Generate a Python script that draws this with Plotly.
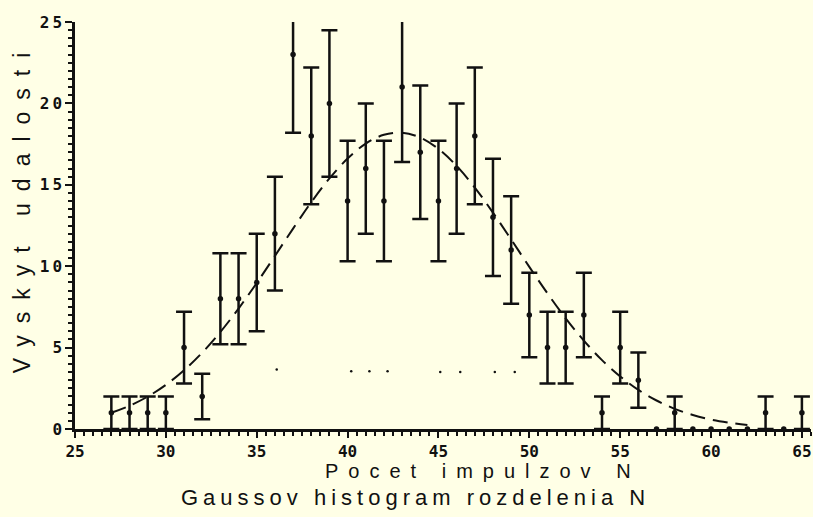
import plotly.graph_objects as go

# ---- data ----
n_values = list(range(27, 66))
counts = [1, 1, 1, 1, 5, 2, 8, 8, 9, 12, 23, 18, 20, 14, 16, 14, 21, 17, 14, 16,
          18, 13, 11, 7, 5, 5, 7, 1, 5, 3, 0, 1, 0, 0, 0, 0, 1, 0, 1]
errors = [1.0, 1.0, 1.0, 1.0, 2.2, 1.4, 2.8, 2.8, 3.0, 3.5, 4.8, 4.2, 4.5, 3.7, 4.0, 3.7, 4.6, 4.1, 3.7, 4.0,
          4.2, 3.6, 3.3, 2.6, 2.2, 2.2, 2.6, 1.0, 2.2, 1.7, 0.0, 1.0, 0.0, 0.0, 0.0, 0.0, 1.0, 0.0, 1.0]

curve_n = list(range(27, 63))
curve_v = [1.00, 1.43, 1.99, 2.71, 3.61, 4.69, 5.96, 7.40, 8.97, 10.63, 12.31, 13.93,
           15.39, 16.61, 17.53, 18.07, 18.19, 17.90, 17.20, 16.16, 14.83, 13.29, 11.64,
           9.96, 8.33, 6.80, 5.43, 4.23, 3.23, 2.40, 1.75, 1.24, 0.86, 0.58, 0.39, 0.25]

stray_n = [36.1, 40.2, 41.2, 42.2, 45.1, 46.2, 48.1, 49.2]
stray_v = [3.65, 3.55, 3.55, 3.55, 3.5, 3.5, 3.5, 3.5]

x_ticks = [25, 30, 35, 40, 45, 50, 55, 60, 65]
y_ticks = [0, 5, 10, 15, 20, 25]

title_text = "Gaussov histogram rozdelenia N"
x_title = "Pocet impulzov N"
y_title = "Vyskyt udalosti"

BG = "#FFFFE6"
INK = "#111111"


def spaced(text, px):
    return '<span style="letter-spacing:%dpx">%s</span>' % (px, text)


def tick_label(v):
    s = str(v)
    if len(s) == 1:
        return s
    return spaced(s[:-1], 3) + s[-1]


err_n = [n for n, e in zip(n_values, errors) if e > 0]
err_c = [c for c, e in zip(counts, errors) if e > 0]
err_e = [e for e in errors if e > 0]

fig = go.Figure()

fig.add_trace(go.Scatter(
    x=curve_n, y=curve_v, mode="lines",
    line=dict(color=INK, width=2, dash="15px,8px", shape="spline"),
    hoverinfo="skip", showlegend=False))

fig.add_trace(go.Scatter(
    x=err_n, y=err_c, mode="markers",
    marker=dict(size=1, color="rgba(0,0,0,0)"),
    error_y=dict(type="data", array=err_e, visible=True, color=INK, thickness=2.5, width=8),
    showlegend=False))

fig.add_trace(go.Scatter(
    x=n_values, y=counts, mode="markers",
    marker=dict(size=5.5, color=INK),
    cliponaxis=False, showlegend=False))

fig.add_trace(go.Scatter(
    x=stray_n, y=stray_v, mode="markers",
    marker=dict(size=2.5, color=INK),
    hoverinfo="skip", showlegend=False))

tick_font = dict(family="DejaVu Sans Mono", size=16, color=INK, weight="bold")

fig.update_layout(
    width=813, height=517,
    margin=dict(l=75, r=2, t=22, b=88),
    paper_bgcolor=BG, plot_bgcolor=BG,
    showlegend=False,
    xaxis=dict(
        range=[25, 65.5], tickvals=x_ticks, ticktext=[str(v) for v in x_ticks],
        ticks="outside", ticklen=6, tickwidth=2, tickcolor=INK,
        showline=True, linewidth=2.5, linecolor=INK, ticklabeloverflow="allow",
        showgrid=False, zeroline=False, tickfont=tick_font,
        minor=dict(dtick=0.5, tick0=25, ticks="outside", ticklen=4, tickwidth=1.5, tickcolor=INK, showgrid=False),
    ),
    yaxis=dict(
        range=[0, 25], tickvals=y_ticks, ticktext=[tick_label(v) for v in y_ticks],
        ticks="outside", ticklen=7, tickwidth=2, tickcolor=INK,
        showline=True, linewidth=2.5, linecolor=INK, ticklabeloverflow="allow",
        showgrid=False, zeroline=False, tickfont=tick_font,
        minor=dict(dtick=0.5, tick0=0, ticks="outside", ticklen=4, tickwidth=1.5, tickcolor=INK, showgrid=False),
    ),
    annotations=[
        dict(text=spaced(x_title, 10),
             xref="paper", yref="paper", x=0.555, y=-0.103, xanchor="center", yanchor="middle",
             showarrow=False, font=dict(family="Liberation Sans", size=20, color=INK)),
        dict(text=spaced(title_text, 5),
             xref="paper", yref="paper", x=0.462, y=-0.168, xanchor="center", yanchor="middle",
             showarrow=False, font=dict(family="Liberation Sans", size=22, color=INK)),
        dict(text=spaced(y_title, 12),
             xref="paper", yref="paper", x=-0.072, y=0.545, xanchor="center", yanchor="middle",
             textangle=-90, showarrow=False, font=dict(family="Liberation Sans", size=23, color=INK)),
    ],
)

fig.write_html(
    "out.html",
    config={"displayModeBar": False},
    post_script="document.body.style.margin='0';document.body.style.overflow='hidden';",
)
